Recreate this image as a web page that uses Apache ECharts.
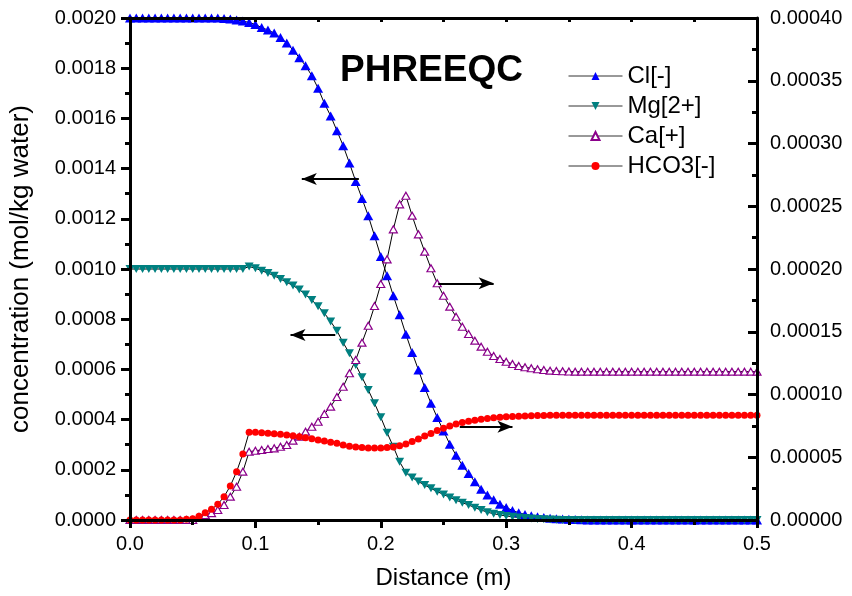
<!DOCTYPE html>
<html>
<head>
<meta charset="utf-8">
<script src="https://cdn.jsdelivr.net/npm/echarts@6/dist/echarts.min.js"></script>
<style>html,body{margin:0;padding:0;background:#fff}#c{width:852px;height:596px}</style>
</head>
<body>
<div id="c"></div>
<script>
const distance = [
0,0.005,0.01,0.015,0.02,0.025,0.03,0.035,0.04,0.045,
0.05,0.055,0.06,0.065,0.07,0.075,0.08,0.085,0.09,0.095,
0.1,0.105,0.11,0.115,0.12,0.125,0.13,0.135,0.14,0.145,
0.15,0.155,0.16,0.165,0.17,0.175,0.18,0.185,0.19,0.195,
0.2,0.205,0.21,0.215,0.22,0.225,0.23,0.235,0.24,0.245,
0.25,0.255,0.26,0.265,0.27,0.275,0.28,0.285,0.29,0.295,
0.3,0.305,0.31,0.315,0.32,0.325,0.33,0.335,0.34,0.345,
0.35,0.355,0.36,0.365,0.37,0.375,0.38,0.385,0.39,0.395,
0.4,0.405,0.41,0.415,0.42,0.425,0.43,0.435,0.44,0.445,
0.45,0.455,0.46,0.465,0.47,0.475,0.48,0.485,0.49,0.495,
0.5];
const cl = [
0.002,0.002,0.002,0.002,0.002,0.002,0.002,0.002,0.002,0.002,
0.002,0.002,0.002,0.002,0.002,0.001998,0.001996,0.001992,0.001988,0.001982,
0.001974,0.001962,0.001952,0.00194,0.001922,0.0019,0.001872,0.001842,0.00181,0.00177,
0.00172,0.00166,0.00161,0.001551,0.001491,0.001422,0.001349,0.001281,0.001212,0.001132,
0.00105,0.000973,0.000893,0.000818,0.00074,0.000667,0.000598,0.000528,0.000465,0.000408,
0.000355,0.000302,0.000258,0.000218,0.000185,0.000152,0.000123,0.0001,0.0000805,0.000063,
0.00005,0.000038,0.000029,0.000022,0.000017,0.000013,0.00001,0.000007,0.000005,0.000004,
0.000003,0.000002,0.000001,0,0,0,0,0,0,0,
0,0,0,0,0,0,0,0,0,0,
0,0,0,0,0,0,0,0,0,0,
0];
const mg = [
0.001,0.001,0.001,0.001,0.001,0.001,0.001,0.001,0.001,0.001,
0.001,0.001,0.001,0.001,0.001,0.001,0.001,0.001,0.001,0.00101,
0.001003,0.000993,0.000984,0.000973,0.00096,0.000947,0.000934,0.000918,0.000898,0.000876,
0.000852,0.000824,0.000791,0.000754,0.000706,0.000664,0.000618,0.000569,0.000518,0.000465,
0.000409,0.000348,0.000292,0.000232,0.000188,0.000169,0.000153,0.000139,0.000126,0.000113,
0.000102,0.00009,0.000079,0.000069,0.00006,0.000049,0.00004,0.000031,0.000025,0.00002,
0.000016,0.000013,0.00001,0.000008,0.000006,0.000004,0.000003,0.000002,0.000001,0,
0,0,0,0,0,0,0,0,0,0,
0,0,0,0,0,0,0,0,0,0,
0,0,0,0,0,0,0,0,0,0,
0];
const ca = [
0,0,0,0,0,0,0,0,0,0,
0,0.0000024,0.000004,0.0000055,0.000008,0.000012,0.0000186,0.0000265,0.0000385,0.0000544,
0.0000552,0.0000558,0.0000566,0.0000571,0.0000584,0.0000598,0.0000632,0.0000664,0.0000704,0.0000743,
0.0000783,0.0000845,0.0000903,0.000098,0.0001062,0.0001169,0.0001275,0.0001413,0.0001548,0.0001705,
0.000188,0.0002077,0.0002316,0.0002515,0.0002584,0.0002425,0.0002276,0.0002138,0.0002006,0.0001886,
0.0001787,0.00017,0.000162,0.000154,0.0001482,0.0001429,0.0001381,0.0001341,0.0001307,0.0001283,
0.0001261,0.0001243,0.0001227,0.0001217,0.0001209,0.0001201,0.0001195,0.000119,0.0001187,0.0001185,
0.0001183,0.0001182,0.0001182,0.0001182,0.0001182,0.0001182,0.0001182,0.0001182,0.0001182,0.0001182,
0.0001182,0.0001182,0.0001182,0.0001182,0.0001182,0.0001182,0.0001182,0.0001182,0.0001182,0.0001182,
0.0001182,0.0001182,0.0001182,0.0001182,0.0001182,0.0001182,0.0001182,0.0001182,0.0001182,0.0001182,
0.0001182];
const hco3 = [
0,0,0,0,0,0,0,0,0,0.0000005,
0.000001,0.000003,0.0000058,0.0000085,0.0000125,0.0000186,0.0000271,0.0000385,0.0000526,0.0000699,
0.0000699,0.0000696,0.0000691,0.0000688,0.0000683,0.0000677,0.0000672,0.0000664,0.0000656,0.0000648,
0.0000637,0.0000629,0.000062,0.0000611,0.0000598,0.0000588,0.0000581,0.0000577,0.0000574,0.0000573,
0.0000574,0.0000577,0.0000582,0.0000591,0.0000606,0.0000625,0.0000645,0.0000669,0.0000689,0.0000713,
0.0000731,0.0000749,0.0000765,0.0000776,0.0000787,0.0000795,0.0000802,0.0000809,0.0000814,0.0000818,
0.0000822,0.0000825,0.0000827,0.0000829,0.0000831,0.0000832,0.0000833,0.0000834,0.0000835,0.0000835,
0.0000835,0.0000835,0.0000835,0.0000835,0.0000835,0.0000835,0.0000835,0.0000835,0.0000835,0.0000835,
0.0000835,0.0000835,0.0000835,0.0000835,0.0000835,0.0000835,0.0000835,0.0000835,0.0000835,0.0000835,
0.0000835,0.0000835,0.0000835,0.0000835,0.0000835,0.0000835,0.0000835,0.0000835,0.0000835,0.0000835,
0.0000835];
const seriesNames = ['Cl[-]', 'Mg[2+]', 'Ca[+]', 'HCO3[-]'];
// annotation arrows: [fromX, toX, y] in data units
const arrowCl = [0.1825, 0.137, 0.001359];
const arrowMg = [0.1637, 0.128, 0.000737];
const arrowCa = [0.2458, 0.290, 0.0001886];
const arrowHco3 = [0.263, 0.305, 0.0000743];

const FONT = 'Arial, "Liberation Sans", sans-serif';
const pairs = arr => distance.map((d, i) => [d, arr[i]]);
const arrowML = a => ({
  silent: true, animation: false,
  symbol: ['none', 'arrow'], symbolSize: [9, 15],
  lineStyle: {color: '#000', width: 2, type: 'solid'},
  label: {show: false},
  emphasis: {disabled: true},
  data: [[{coord: [a[0], a[2]]}, {coord: [a[1], a[2]]}]]
});
const axisLine = {show: true, onZero: false, lineStyle: {color: '#000', width: 3}};

const chart = echarts.init(document.getElementById('c'), null, {renderer: 'canvas'});
chart.setOption({
  animation: false,
  backgroundColor: '#fff',
  textStyle: {fontFamily: FONT},
  title: {text: 'PHREEQC', left: 335, top: 47,
    textStyle: {fontFamily: FONT, fontSize: 37, fontWeight: 'bold', color: '#000'}},
  legend: {
    orient: 'vertical', left: 563, top: 59, itemWidth: 54, itemHeight: 10, itemGap: 6,
    data: seriesNames,
    textStyle: {fontFamily: FONT, fontSize: 24, color: '#000', lineHeight: 24},
    lineStyle: {color: '#333', width: 1}
  },
  grid: {left: 127, right: 95, top: 18, bottom: 76, containLabel: false},
  xAxis: [{
    type: 'value', position: 'bottom', min: 0, max: 0.5, interval: 0.1, z: 5,
    name: 'Distance (m)', nameLocation: 'middle', nameGap: 46,
    nameTextStyle: {fontFamily: FONT, fontSize: 24, color: '#000'},
    axisLine: axisLine,
    axisTick: {show: true, inside: false, length: 8, lineStyle: {color: '#000', width: 3}},
    minorTick: {show: true, splitNumber: 2, length: 5, lineStyle: {color: '#000', width: 3}},
    axisLabel: {fontFamily: FONT, fontSize: 20, color: '#000', margin: 14, formatter: v => v.toFixed(1)},
    splitLine: {show: false}, minorSplitLine: {show: false}
  }, {
    type: 'value', position: 'top', min: 0, max: 0.5, interval: 0.1, z: 5,
    axisLine: axisLine,
    axisTick: {show: true, inside: true, length: 4, lineStyle: {color: '#000', width: 3}},
    minorTick: {show: true, splitNumber: 2, length: 4, lineStyle: {color: '#000', width: 3}},
    axisLabel: {show: false}, splitLine: {show: false}
  }],
  yAxis: [{
    type: 'value', position: 'left', min: 0, max: 0.002, interval: 0.0002, z: 5,
    name: 'concentration (mol/kg water)', nameLocation: 'middle', nameGap: 96, nameRotate: 90,
    nameTextStyle: {fontFamily: FONT, fontSize: 26, color: '#000'},
    axisLine: axisLine,
    axisTick: {show: true, inside: false, length: 9, lineStyle: {color: '#000', width: 3}},
    minorTick: {show: true, splitNumber: 2, length: 5, lineStyle: {color: '#000', width: 3}},
    axisLabel: {fontFamily: FONT, fontSize: 20, color: '#000', margin: 14, formatter: v => v.toFixed(4)},
    splitLine: {show: false}
  }, {
    type: 'value', position: 'right', min: 0, max: 0.0004, interval: 0.00005, z: 5,
    axisLine: axisLine,
    axisTick: {show: true, inside: true, length: 9, lineStyle: {color: '#000', width: 3}},
    minorTick: {show: true, splitNumber: 2, length: 5, lineStyle: {color: '#000', width: 3}},
    axisLabel: {fontFamily: FONT, fontSize: 20, color: '#000', margin: 13, formatter: v => v.toFixed(5)},
    splitLine: {show: false}
  }],
  series: [{
    name: seriesNames[0], type: 'line', xAxisIndex: 0, yAxisIndex: 0, data: pairs(cl),
    symbol: 'triangle', symbolSize: [10, 9], showAllSymbol: true, clip: false, z: 2,
    itemStyle: {color: '#0000ff'}, lineStyle: {color: '#000', width: 1},
    emphasis: {disabled: true}, markLine: arrowML(arrowCl)
  }, {
    name: seriesNames[1], type: 'line', xAxisIndex: 0, yAxisIndex: 0, data: pairs(mg),
    symbol: 'triangle', symbolRotate: 180, symbolSize: [9, 8], showAllSymbol: true, clip: false, z: 2,
    itemStyle: {color: '#008080'}, lineStyle: {color: '#000', width: 1},
    emphasis: {disabled: true}, markLine: arrowML(arrowMg)
  }, {
    name: seriesNames[2], type: 'line', xAxisIndex: 0, yAxisIndex: 1, data: pairs(ca),
    symbol: 'triangle', symbolSize: [8, 7], showAllSymbol: true, clip: false, z: 2,
    itemStyle: {color: '#ffffff', borderColor: '#8b008b', borderWidth: 1.2},
    lineStyle: {color: '#000', width: 1},
    emphasis: {disabled: true}, markLine: arrowML(arrowCa)
  }, {
    name: seriesNames[3], type: 'line', xAxisIndex: 0, yAxisIndex: 1, data: pairs(hco3),
    symbol: 'circle', symbolSize: 7, showAllSymbol: true, clip: false, z: 2,
    itemStyle: {color: '#ff0000'}, lineStyle: {color: '#000', width: 1},
    emphasis: {disabled: true}, markLine: arrowML(arrowHco3)
  }]
});
</script>
</body>
</html>
